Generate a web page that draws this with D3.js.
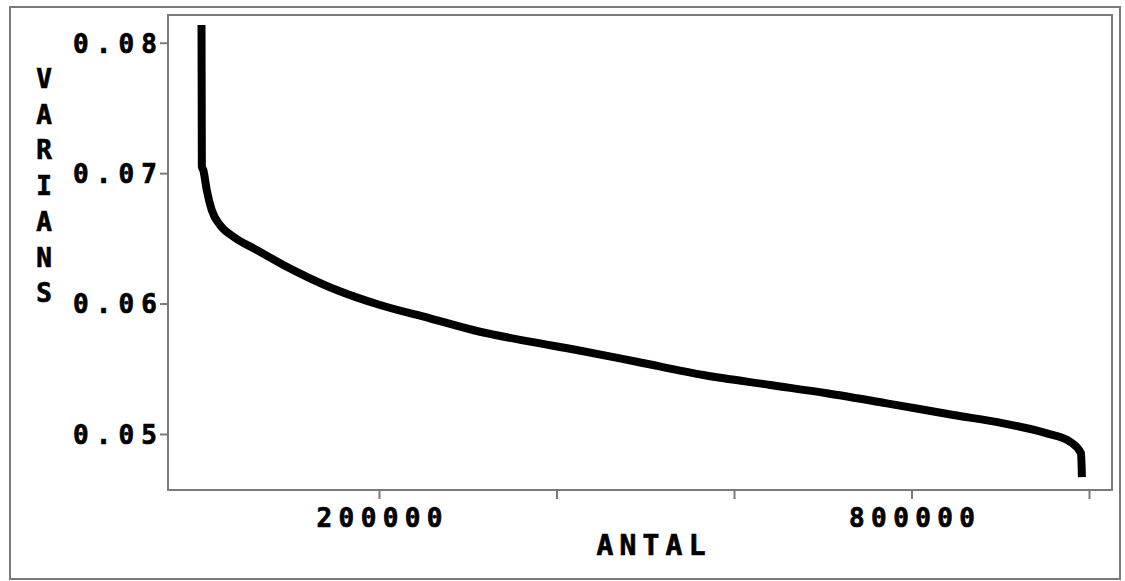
<!DOCTYPE html>
<html>
<head>
<meta charset="utf-8">
<script src="https://cdn.jsdelivr.net/npm/d3@7"></script>
<style>
  html, body { margin: 0; padding: 0; background: #fff; }
  svg { display: block; }
  text { font-family: "DejaVu Sans Mono", monospace; font-weight: bold; fill: #000; stroke: #000; stroke-width: 0.7px; }
</style>
</head>
<body>
<svg id="chart" width="1125" height="581"></svg>
<script>
// ---- data ----
const antal = [0, 400, 2000, 5900, 11500, 20850, 35800, 62200, 92200, 122300, 152300,
  201100, 257500, 313800, 370100, 422800, 490400, 565500, 640600, 704500,
  772100, 847200, 903500, 952400, 978600, 991000, 992000];
const varians = [0.08136, 0.07050, 0.07024, 0.06871, 0.06717, 0.06602, 0.06513, 0.06411, 0.06296, 0.06194, 0.06104,
  0.05989, 0.05887, 0.05784, 0.05708, 0.05644, 0.05554, 0.05452, 0.05376, 0.05312,
  0.05235, 0.05146, 0.05082, 0.05005, 0.04941, 0.04852, 0.04670];
const yTicks = [0.05, 0.06, 0.07, 0.08];
const yTickLabels = ["0.05", "0.06", "0.07", "0.08"];
const xTicks = [200000, 400000, 600000, 800000, 1000000];
const xTickLabels = ["200000", "", "", "800000", ""];
const xTitle = "ANTAL";
const yTitle = "VARIANS";

// ---- layout ----
const W = 1125, H = 581;
const plot = { left: 168, top: 15, right: 1112, bottom: 490 };
const svg = d3.select("#chart");

const x = d3.scaleLinear().domain([-37750, 1025900]).range([plot.left, plot.right]);
const y = d3.scaleLinear().domain([0.045706, 0.082125]).range([plot.bottom, plot.top]);

// outer frame
svg.append("rect").attr("x", 10).attr("y", 7).attr("width", 1110).attr("height", 572)
  .attr("fill", "none").attr("stroke", "#7a7a7a").attr("stroke-width", 2);

// plot frame
svg.append("rect").attr("x", plot.left).attr("y", plot.top)
  .attr("width", plot.right - plot.left).attr("height", plot.bottom - plot.top)
  .attr("fill", "none").attr("stroke", "#7a7a7a").attr("stroke-width", 2);

// y axis
const yAxis = svg.append("g").attr("transform", `translate(${plot.left},0)`)
  .call(d3.axisLeft(y).tickValues(yTicks).tickSize(8).tickPadding(3)
    .tickFormat((d, i) => yTickLabels[i]));
yAxis.select(".domain").remove();
yAxis.selectAll(".tick line").attr("stroke", "#7a7a7a").attr("stroke-width", 2);
yAxis.selectAll(".tick text")
  .attr("font-size", 26).attr("fill", "#000")
  .attr("font-family", "DejaVu Sans Mono").attr("font-weight", "bold")
  .attr("dy", "0.36em")
  .attr("textLength", 84).attr("lengthAdjust", "spacing");

// x axis
const xAxis = svg.append("g").attr("transform", `translate(0,${plot.bottom})`)
  .call(d3.axisBottom(x).tickValues(xTicks).tickSize(9).tickPadding(10)
    .tickFormat((d, i) => xTickLabels[i]));
xAxis.select(".domain").remove();
xAxis.selectAll(".tick line").attr("stroke", "#7a7a7a").attr("stroke-width", 2);
xAxis.selectAll(".tick text")
  .attr("font-size", 26).attr("fill", "#000")
  .attr("font-family", "DejaVu Sans Mono").attr("font-weight", "bold")
  .attr("dy", "0.71em")
  .each(function(d, i) {
    if (xTickLabels[i]) d3.select(this).attr("textLength", 126).attr("lengthAdjust", "spacing");
  });

// titles
svg.append("text").attr("x", 651).attr("y", 555).attr("text-anchor", "middle")
  .attr("font-size", 28).attr("textLength", 109).attr("lengthAdjust", "spacing")
  .text(xTitle);

const yt = svg.append("text").attr("font-size", 26).attr("text-anchor", "middle");
yTitle.split("").forEach((ch, i) => {
  yt.append("tspan").attr("x", 44).attr("y", 88 + i * 35.7).text(ch);
});

// curve
const line = d3.line()
  .x((d, i) => x(antal[i]))
  .y((d, i) => y(varians[i]))
  .curve(d3.curveMonotoneX);
svg.append("path").datum(varians)
  .attr("d", line)
  .attr("fill", "none").attr("stroke", "#000").attr("stroke-width", 8)
  .attr("stroke-linecap", "butt").attr("stroke-linejoin", "round");
</script>
</body>
</html>
